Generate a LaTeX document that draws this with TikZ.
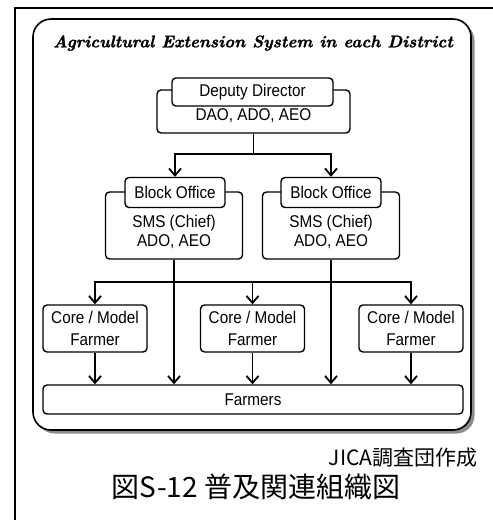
\documentclass[tikz,border=0pt]{standalone}
\usepackage{fontspec}
\usepackage{tikz}
\usetikzlibrary{arrows.meta,positioning,shadows}
\newfontfamily\narrowsans{Liberation Sans}[FakeStretch=0.9]
\newfontfamily\titlefont{lmroman10-bolditalic.otf}[FakeBold=1.2]
\newfontfamily\jpfont{Noto Sans CJK JP}
\tikzset{
  box/.style={rectangle, rounded corners=4pt, draw=black, line width=1.4pt,
              fill=white, align=center, inner sep=0pt,
              font=\narrowsans\fontsize{17}{19}\selectfont},
  ar/.style={-{Straight Barb[length=7pt,width=12pt]}, line width=1.8pt},
  ln/.style={line width=1.8pt}
}

\begin{document}
\begin{tikzpicture}[
  x=1pt, y=-1pt,
  panel/.style={rectangle, rounded corners=18pt, draw=black, line width=1.6pt,
                fill=white, minimum width=438pt, minimum height=411pt,
                drop shadow={shadow xshift=3.5pt, shadow yshift=-3.5pt,
                             fill=black!45, opacity=1}},
  ttl/.style={font=\titlefont\fontsize{16.9}{19}\selectfont},
  headbox/.style={box, minimum height=30pt},
  staffbox/.style={box, text depth=0pt},
  corebox/.style={box, minimum width=104pt, minimum height=47pt}
]
\useasboundingbox (0,0) rectangle (493,520);
% outer frame
\draw[line width=1.5pt] (15,520) -- (15,8) -- (493,8);
% district panel
\node[panel] (district) at (252,224.5) {};
\node[ttl] (ttl) at (253,43) {Agricultural Extension System in each District};

% deputy director
\node[staffbox, minimum width=193pt, minimum height=43pt, text height=17pt] (ddstaff) at (253.5,111.5) {DAO, ADO, AEO};
\node[headbox, minimum width=161pt, minimum height=28pt] (ddhead) at (252.5,92) {Deputy Director};

% block offices
\node[staffbox, minimum width=137pt, minimum height=67pt, text height=41pt] (boA) at (174,225.5) {SMS (Chief)\\ADO, AEO};
\node[staffbox, minimum width=137pt, minimum height=67pt, text height=41pt] (boB) at (331,225.5) {SMS (Chief)\\ADO, AEO};
\node[headbox, minimum width=100pt] (bohA) at (175,192.5) {Block Office};
\node[headbox, minimum width=100pt] (bohB) at (331,192.5) {Block Office};

% core / model farmers
\node[corebox] (coreA) at (95,328.5) {Core / Model\\[3pt]Farmer};
\node[corebox] (coreB) at (252.5,328.5) {Core / Model\\[3pt]Farmer};
\node[corebox] (coreC) at (411,328.5) {Core / Model\\[3pt]Farmer};

% farmers
\node[box, minimum width=420pt, minimum height=29pt] (farm) at (253,399.5) {Farmers};

% connectors
\coordinate (split) at (253.5,154);
\coordinate (dist) at (252.5,282);
\draw[ln] (ddstaff.south) -- (split);
\draw[ar] (split) -| (bohA.north);
\draw[ar] (split) -| (bohB.north);
\draw[ar] (boA.south) -- (boA.south |- farm.north);
\draw[ar] (boB.south) -- (boB.south |- farm.north);
\draw[ar] (dist) -| (coreA.north);
\draw[ar] (dist) -- (coreB.north);
\draw[ar] (dist) -| (coreC.north);
\draw[ar] (coreA.south) -- (coreA.south |- farm.north);
\draw[ar] (coreB.south) -- (coreB.south |- farm.north);
\draw[ar] (coreC.south) -- (coreC.south |- farm.north);

% captions
\node[font=\jpfont\fontsize{21}{24}\selectfont, anchor=east] (src) at (481,458) {JICA調査団作成};
\node[font=\jpfont\fontsize{28}{32}\selectfont] (cap) at (256,487) {図S-12 普及関連組織図};
\end{tikzpicture}
\end{document}
